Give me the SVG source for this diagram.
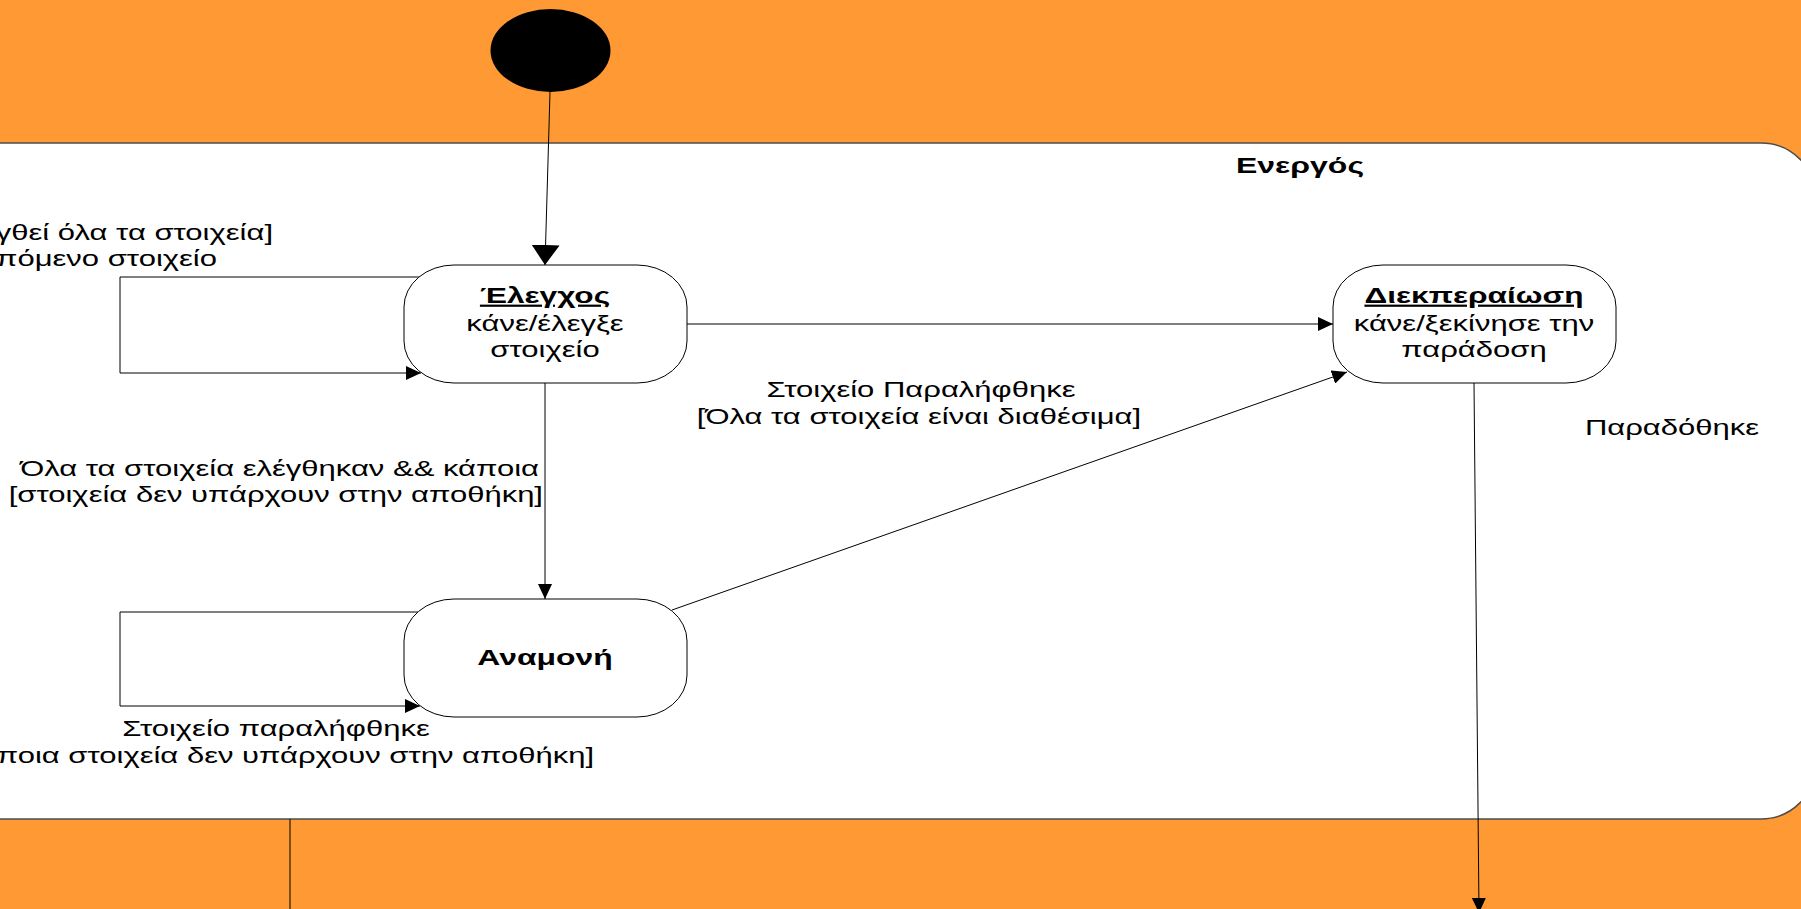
<svg xmlns="http://www.w3.org/2000/svg" width="1801" height="909" viewBox="0 0 1801 909">
<defs>
<style>
.band{fill:#FF9933}
.frame{fill:#FFFFFF;stroke:#4d4d4d;stroke-width:1.5}
.node{fill:#FFFFFF;stroke:#000;stroke-width:1}
.conn{fill:none;stroke:#000;stroke-width:1}
text{font-family:"Liberation Sans",Arial,sans-serif;font-size:22px;fill:#000}
.b{font-weight:bold}
.u{text-decoration:underline}
</style>
<marker id="arrS" markerUnits="userSpaceOnUse" markerWidth="15" markerHeight="14" refX="15" refY="7" orient="auto">
<path d="M0,0 L15,7 L0,14 z" fill="#000"/>
</marker>
<marker id="arrB" markerUnits="userSpaceOnUse" markerWidth="20" markerHeight="28" refX="20" refY="14" orient="auto">
<path d="M0,0 L20,14 L0,28 z" fill="#000"/>
</marker>
</defs>
<rect class="band" x="0" y="0" width="1801" height="909"/>
<g id="active">
<rect class="frame" x="-60" y="143" width="1876" height="676" rx="55" ry="55"/>
<text class="b" transform="translate(1300,173) scale(1.455,1)" text-anchor="middle">Ενεργός</text>
</g>
<line x1="290" y1="819" x2="290" y2="909" stroke="#000" stroke-width="1"/>
<g id="initial">
<ellipse cx="550.5" cy="50.5" rx="60" ry="41.5" fill="#000"/>
</g>
<g id="connectors">
<path class="conn" d="M550,92 L545,265" marker-end="url(#arrB)"/>
<path class="conn" d="M419,277 H120 V373 H421" marker-end="url(#arrS)"/>
<path class="conn" d="M687,324 H1333" marker-end="url(#arrS)"/>
<path class="conn" d="M545,383 V599" marker-end="url(#arrS)"/>
<path class="conn" d="M418,612 H120 V706 H420" marker-end="url(#arrS)"/>
<path class="conn" d="M672,610 L1347,372" marker-end="url(#arrS)"/>
<path class="conn" d="M1474,383 L1479,913" marker-end="url(#arrS)"/>
</g>
<g id="labels">
<text transform="translate(273,240) scale(1.41,1)" text-anchor="end">γθεί όλα τα στοιχεία]</text>
<text transform="translate(217,266) scale(1.41,1)" text-anchor="end">πόμενο στοιχείο</text>
<text transform="translate(539,476) scale(1.41,1)" text-anchor="end">Όλα τα στοιχεία ελέγθηκαν &amp;&amp; κάποια</text>
<text transform="translate(543,502) scale(1.41,1)" text-anchor="end">[στοιχεία δεν υπάρχουν στην αποθήκη]</text>
<text transform="translate(921,397) scale(1.41,1)" text-anchor="middle">Στοιχείο Παραλήφθηκε</text>
<text transform="translate(919,424) scale(1.41,1)" text-anchor="middle">[Όλα τα στοιχεία είναι διαθέσιμα]</text>
<text transform="translate(1672,435) scale(1.41,1)" text-anchor="middle">Παραδόθηκε</text>
<text transform="translate(276,736) scale(1.41,1)" text-anchor="middle">Στοιχείο παραλήφθηκε</text>
<text transform="translate(594,763) scale(1.41,1)" text-anchor="end">ποια στοιχεία δεν υπάρχουν στην αποθήκη]</text>
</g>
<g id="elegxos">
<rect class="node" x="404" y="265" width="283" height="118" rx="50" ry="42"/>
<text class="b u" transform="translate(545,303) scale(1.44,1)" text-anchor="middle">Έλεγχος</text>
<text transform="translate(545,331) scale(1.41,1)" text-anchor="middle">κάνε/έλεγξε</text>
<text transform="translate(545,357) scale(1.41,1)" text-anchor="middle">στοιχείο</text>
</g>
<g id="diekperaiosi">
<rect class="node" x="1333" y="265" width="283" height="118" rx="50" ry="42"/>
<text class="b u" transform="translate(1474,303) scale(1.44,1)" text-anchor="middle">Διεκπεραίωση</text>
<text transform="translate(1474,331) scale(1.41,1)" text-anchor="middle">κάνε/ξεκίνησε την</text>
<text transform="translate(1474,357) scale(1.41,1)" text-anchor="middle">παράδοση</text>
</g>
<g id="anamoni">
<rect class="node" x="404" y="599" width="283" height="118" rx="50" ry="42"/>
<text class="b" transform="translate(545,665) scale(1.45,1)" text-anchor="middle">Αναμονή</text>
</g>
</svg>
